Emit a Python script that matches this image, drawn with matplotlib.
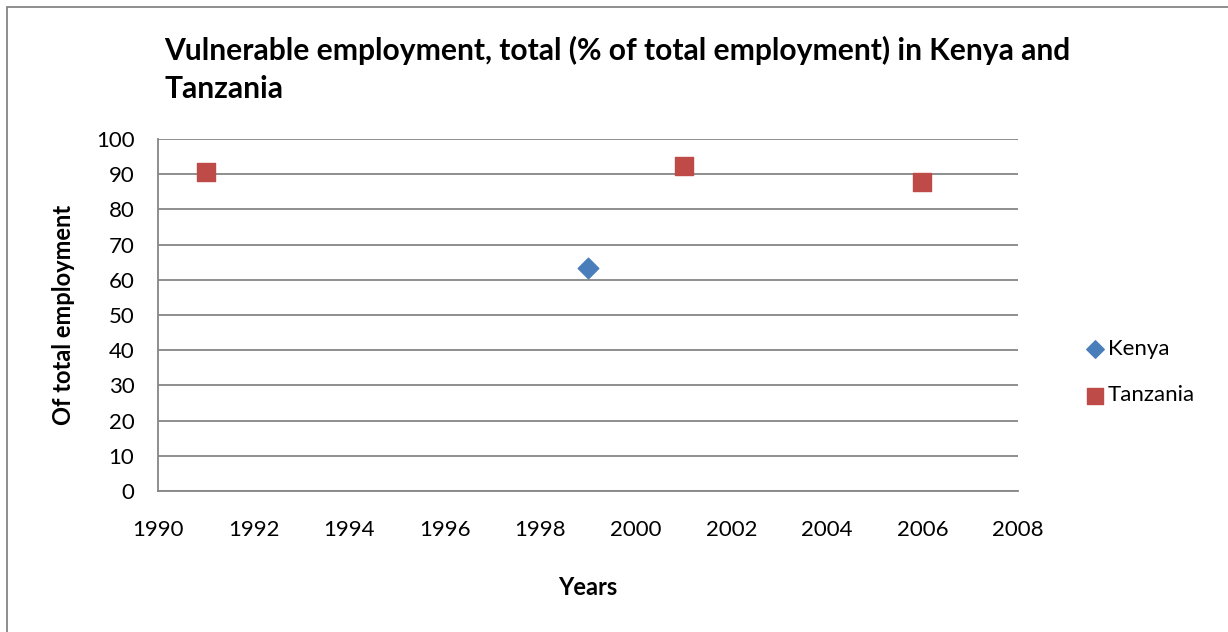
import matplotlib.pyplot as plt
from matplotlib.patches import Rectangle

plt.rcParams['font.family'] = ['Lato', 'DejaVu Sans']

# data
kenya_years = [1999]
kenya_values = [63.4]
tanzania_years = [1991, 2001, 2006]
tanzania_values = [90.6, 92.3, 87.8]

fig = plt.figure(figsize=(12.28, 6.32), dpi=100)
ax = fig.add_axes([0.1287, 0.2231, 0.7003, 0.5569])

grid_col = '#868686'
ax.scatter(kenya_years, kenya_values, marker='D', s=110, color='#4a7ebb',
           edgecolor='#4a7ebb', label='Kenya', zorder=3)
ax.scatter(tanzania_years, tanzania_values, marker='s', s=180, color='#be4b48',
           edgecolor='#be4b48', label='Tanzania', zorder=3)

ax.set_xlim(1990, 2008)
ax.set_ylim(0, 100)
ax.set_xticks(range(1990, 2009, 2))
ax.set_yticks(range(0, 101, 10))
ax.yaxis.grid(True, color=grid_col, linewidth=1.3)
ax.set_axisbelow(True)
for s in ['top', 'right']:
    ax.spines[s].set_visible(False)
for s in ['left', 'bottom']:
    ax.spines[s].set_color(grid_col)
    ax.spines[s].set_linewidth(1.3)
ax.tick_params(axis='both', labelcolor='black', labelsize=16, length=0)
ax.tick_params(axis='x', pad=21)
ax.tick_params(axis='y', pad=17)

ax.set_xlabel('Years', fontsize=17, fontweight='bold', labelpad=26)
ax.set_ylabel('Of total employment', fontsize=17, fontweight='bold', labelpad=15)

fig.text(0.134, 0.943, 'Vulnerable employment, total (% of total employment) in Kenya and\nTanzania',
         fontsize=21.6, fontweight='bold', va='top', ha='left', linespacing=1.45)

ax.legend(loc='center left', bbox_to_anchor=(1.066, 0.338), frameon=False, fontsize=16,
          borderpad=0, handlelength=0.8, handletextpad=0.2, labelspacing=1.2,
          markerscale=0.85)

fig.patches.append(Rectangle((0.0057, -0.1), 1.2, 1.0889, transform=fig.transFigure,
                             fill=False, edgecolor=grid_col, linewidth=1.3))

fig.savefig('out.png', dpi=100)
